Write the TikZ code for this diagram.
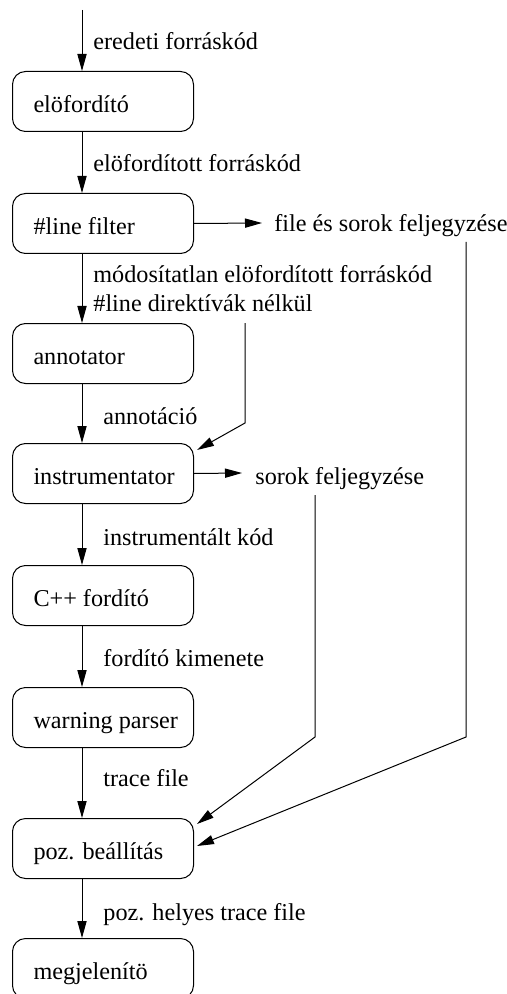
\documentclass[tikz,border=0pt]{standalone}
\usepackage{fontspec}
\setmainfont{Liberation Serif}
\usetikzlibrary{arrows.meta,calc}
% left-aligned text of a fixed width inside a stage box
\newcommand\stagelabel[1]{\makebox[69.5pt][l]{#1}}
\begin{document}
\begin{tikzpicture}[x=0.5pt,y=-0.5pt,
  every node/.style={font=\fontsize{12.1pt}{14.5pt}\selectfont},
  stage/.style={draw, line width=0.5pt, rounded corners=6.5pt, anchor=north west,
    minimum width=90.5pt, minimum height=30pt, inner xsep=10.5pt, inner ysep=0pt,
    text height=12pt, text depth=1pt},
  lbl/.style={anchor=base west, inner sep=0pt},
  flow/.style={draw, line width=0.5pt, -{Triangle[length=8.5pt,width=4.6pt]}}]
\useasboundingbox (0,0) rectangle (507,994);
\clip (0,0) rectangle (507,994);

% main processing chain
\coordinate (axis) at (82,0);
\coordinate (src) at (82,10);
\node[stage] (pre)  at (12,71)  {\stagelabel{elöfordító}};
\node[stage] (filt) at (12,193) {\stagelabel{\#line filter}};
\node[stage] (ann)  at (12,323) {\stagelabel{annotator}};
\node[stage] (ins)  at (12,443) {\stagelabel{instrumentator}};
\node[stage] (cc)   at (12,565) {\stagelabel{C++ fordító}};
\node[stage] (warn) at (12,687) {\stagelabel{warning parser}};
\node[stage] (pos)  at (12,818) {\stagelabel{poz. beállítás}};
\node[stage] (disp) at (12,938) {\stagelabel{megjelenítö}};

% data labels along the chain
\node[lbl] (l0)  at (93,50)   {eredeti forráskód};
\node[lbl] (l1)  at (93,172)  {elöfordított forráskód};
\node[lbl] (l2a) at (93,283)  {módosítatlan elöfordított forráskód};
\node[lbl] (l2b) at (93,312)  {\#line direktívák nélkül};
\node[lbl] (l3)  at (103,424) {annotáció};
\node[lbl] (l4)  at (103,545) {instrumentált kód};
\node[lbl] (l5)  at (103,666) {fordító kimenete};
\node[lbl] (l6)  at (103,786) {trace file};
\node[lbl] (l7)  at (103,920) {poz. helyes trace file};

% side outputs
\node[lbl] (fsf) at (274,232) {file és sorok feljegyzése};
\node[lbl] (sf)  at (255,484) {sorok feljegyzése};
\coordinate (fsfin) at (262,223);
\coordinate (sfin)  at (242,473);

% chain arrows
\draw[flow] (src) -- (pre.north -| axis);
\draw[flow] (pre.south -| axis)  -- (filt.north -| axis);
\draw[flow] (filt.south -| axis) -- (ann.north -| axis);
\draw[flow] (ann.south -| axis)  -- (ins.north -| axis);
\draw[flow] (ins.south -| axis)  -- (cc.north -| axis);
\draw[flow] (cc.south -| axis)   -- (warn.north -| axis);
\draw[flow] (warn.south -| axis) -- (pos.north -| axis);
\draw[flow] (pos.south -| axis)  -- (disp.north -| axis);

% side output arrows
\draw[flow] (filt.east) -- (fsfin);
\draw[flow] (ins.east)  -- (sfin);

% unmodified source routed to the instrumentator
\coordinate (a0) at (245,323);
\coordinate (a1) at (245,423);
\draw[flow] (a0) -- (a1) -- ($(ins.north east)+(3,7)$);

% recorded lines routed to the position fixer
\coordinate (m0) at (315,495);
\coordinate (m1) at (315,737);
\draw[flow] (m0) -- (m1) -- ($(pos.north east)+(3,6)$);

% recorded files and lines routed to the position fixer
\coordinate (r0) at (466,242);
\coordinate (r1) at (466,737);
\draw[flow] (r0) -- (r1) -- ($(pos.north east)+(3,28)$);
\end{tikzpicture}
\end{document}
